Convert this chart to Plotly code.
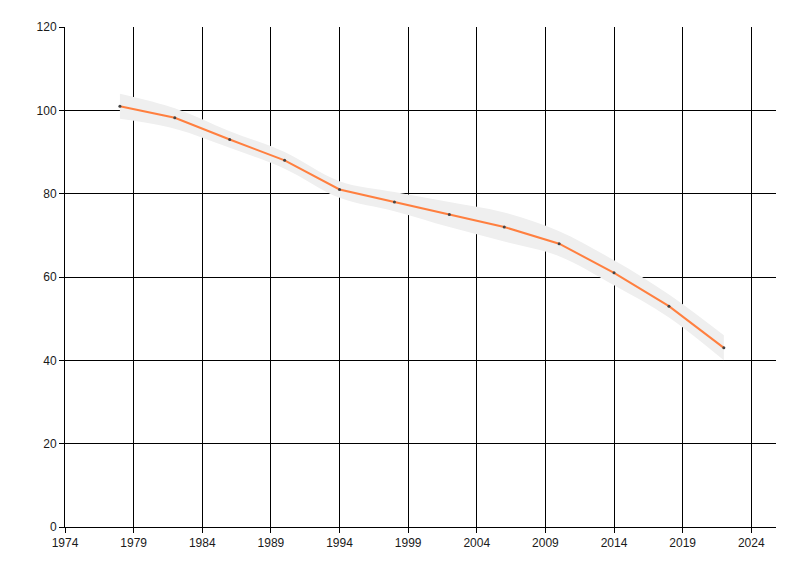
import plotly.graph_objects as go

# data
years = [1978, 1982, 1986, 1990, 1994, 1998, 2002, 2006, 2010, 2014, 2018, 2022]
values = [101, 98.2, 93, 88, 81, 78, 75, 72, 68, 61, 53, 43]
upper = [104, 100.5, 95, 90, 83, 80.4, 78, 75.5, 71, 64, 55.8, 46]
lower = [98, 95.6, 91, 86, 79, 75.8, 72, 68.5, 65, 58, 50.3, 40]

fig = go.Figure()

# band
fig.add_trace(go.Scatter(
    x=years, y=upper, mode="lines", line=dict(width=0, shape="spline"),
    hoverinfo="skip", showlegend=False
))
fig.add_trace(go.Scatter(
    x=years, y=lower, mode="lines", line=dict(width=0, shape="spline"),
    fill="tonexty", fillcolor="#efefef", hoverinfo="skip", showlegend=False
))

# main line
fig.add_trace(go.Scatter(
    x=years, y=values, mode="lines+markers",
    line=dict(color="#ff7f3f", width=2),
    marker=dict(color="#444444", size=3),
    showlegend=False
))

axis_font = dict(family="Liberation Sans Narrow, Liberation Sans, Arial", size=12, color="#1a1a1a")

fig.update_layout(
    width=800, height=576,
    margin=dict(l=57, r=32, t=19, b=57),
    paper_bgcolor="white", plot_bgcolor="white",
    xaxis=dict(
        range=[1974, 2025.8], tick0=1974, dtick=5,
        showgrid=True, gridcolor="black", gridwidth=1,
        showline=True, linecolor="black", linewidth=1,
        ticks="outside", ticklen=5, tickcolor="black",
        tickfont=axis_font, zeroline=False,
    ),
    yaxis=dict(
        range=[0, 120], tick0=0, dtick=20,
        showgrid=True, gridcolor="black", gridwidth=1,
        showline=True, linecolor="black", linewidth=1,
        ticks="outside", ticklen=5, tickcolor="black",
        tickfont=axis_font, zeroline=False,
    ),
)

fig.write_html("out.html")
